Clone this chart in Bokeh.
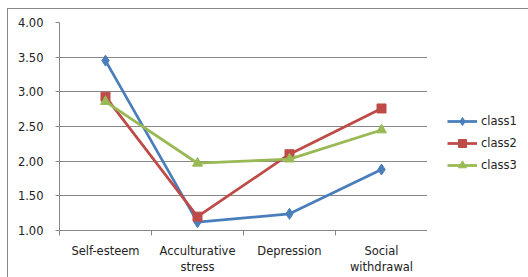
from bokeh.plotting import figure
from bokeh.layouts import row
from bokeh.models import FixedTicker, NumeralTickFormatter, Legend, LegendItem, Range1d
from bokeh.embed import file_html
from bokeh.resources import INLINE

categories = ["Self-esteem", "Acculturative\nstress", "Depression", "Social\nwithdrawal"]
class1 = [3.45, 1.12, 1.24, 1.88]
class2 = [2.93, 1.20, 2.10, 2.76]
class3 = [2.86, 1.97, 2.03, 2.45]
y_ticks = [1.0, 1.5, 2.0, 2.5, 3.0, 3.5, 4.0]

xs = list(range(len(categories)))
FONT = "DejaVu Sans"
GRAY = "#868686"

p = figure(width=419, height=268, output_backend="svg", toolbar_location=None,
           x_range=Range1d(-0.5, len(categories) - 0.5), y_range=Range1d(1.0, 4.0),
           min_border_left=51, min_border_top=13, min_border_right=0, min_border_bottom=46)
p.outline_line_color = None
p.background_fill_color = "white"
p.border_fill_color = "white"

p.xgrid.visible = False
p.ygrid.grid_line_color = GRAY
p.ygrid.grid_line_width = 1
p.ygrid.ticker = FixedTicker(ticks=y_ticks)

p.yaxis.ticker = FixedTicker(ticks=y_ticks)
p.yaxis.formatter = NumeralTickFormatter(format="0.00")
p.yaxis.axis_line_color = GRAY
p.yaxis.major_tick_line_color = GRAY
p.yaxis.major_tick_out = 4
p.yaxis.major_tick_in = 0
p.yaxis.minor_tick_line_color = None
p.yaxis.major_label_standoff = 12

p.xaxis.ticker = FixedTicker(ticks=xs, minor_ticks=[i - 0.5 for i in range(len(categories) + 1)])
p.xaxis.major_label_overrides = {i: c for i, c in enumerate(categories)}
p.xaxis.axis_line_color = GRAY
p.xaxis.major_tick_line_color = None
p.xaxis.minor_tick_line_color = GRAY
p.xaxis.minor_tick_out = 5
p.xaxis.minor_tick_in = 0
p.xaxis.major_label_standoff = 7

for ax in (p.xaxis[0], p.yaxis[0]):
    ax.major_label_text_font = FONT
    ax.major_label_text_font_size = "11.5px"
    ax.major_label_text_color = "#222222"

# legend-only figure to the right of the plot area
lf = figure(width=101, height=268, output_backend="svg", toolbar_location=None,
            x_range=Range1d(100, 101), y_range=Range1d(100, 101),
            x_axis_type=None, y_axis_type=None,
            min_border_left=0, min_border_top=0, min_border_right=0, min_border_bottom=0)
lf.outline_line_color = None
lf.xgrid.visible = False
lf.ygrid.visible = False
lf.background_fill_color = "white"
lf.border_fill_color = "white"

series = [
    ("class1", class1, "#4A7EBB", "diamond", 11),
    ("class2", class2, "#BE4B48", "square", 9),
    ("class3", class3, "#98B954", "triangle", 10),
]
items = []
for name, vals, color, marker, size in series:
    p.line(xs, vals, line_color=color, line_width=2.75)
    p.scatter(xs, vals, marker=marker, size=size, fill_color=color, line_color=color)
    ln = lf.line(xs, vals, line_color=color, line_width=2.75)
    sc = lf.scatter(xs, vals, marker=marker, size=size, fill_color=color, line_color=color)
    items.append(LegendItem(label=name, renderers=[ln, sc]))

legend = Legend(items=items, location=(20, 55), padding=0, margin=0, spacing=2,
                glyph_width=30, glyph_height=20, label_height=20, label_standoff=4,
                border_line_color=None, background_fill_alpha=0,
                label_text_font=FONT, label_text_font_size="11.5px", label_text_color="#222222")
lf.add_layout(legend, "center")

layout = row(p, lf, margin=(8, 0, 0, 7),
             styles={"border-top": f"1px solid {GRAY}", "border-left": f"1px solid {GRAY}"})

open("out.html", "w").write(file_html(layout, INLINE))
